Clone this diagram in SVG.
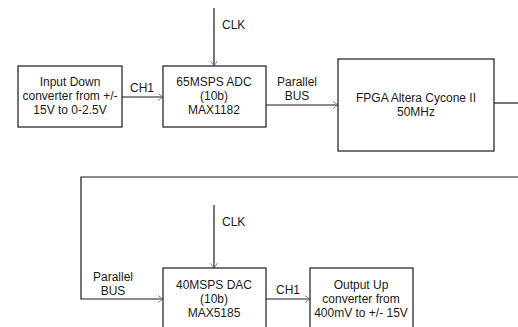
<svg xmlns="http://www.w3.org/2000/svg" width="518" height="327" viewBox="0 0 518 327">
<style>
.box{fill:#fff;stroke:#1a1a1a;stroke-width:1.2}
.ln{fill:none;stroke:#1a1a1a;stroke-width:1.2}
text{font-family:"Liberation Sans",Arial,sans-serif;font-size:12px;fill:#1a1a1a;text-anchor:middle}
</style>
<defs>
<marker id="ah" markerWidth="8" markerHeight="8" refX="6" refY="4" orient="auto" markerUnits="userSpaceOnUse">
<path d="M1,0.5 L6,4 L1,7.5" fill="none" stroke="#888" stroke-width="1"/>
</marker>
</defs>
<rect width="518" height="327" fill="#fff"/>
<g id="connectors">
<path class="ln" d="M122,97 H163" marker-end="url(#ah)"/>
<path class="ln" d="M214,8 V66" marker-end="url(#ah)"/>
<path class="ln" d="M266,105 H338" marker-end="url(#ah)"/>
<path class="ln" d="M494,103 H518"/>
<path class="ln" d="M518,177 H81 V299 H163" marker-end="url(#ah)"/>
<path class="ln" d="M214,205 V268" marker-end="url(#ah)"/>
<path class="ln" d="M266,299 H310" marker-end="url(#ah)"/>
<text x="142" y="92">CH1</text>
<text x="222" y="29" style="text-anchor:start">CLK</text>
<text x="297" y="86">Parallel</text>
<text x="297" y="100">BUS</text>
<text x="222" y="226" style="text-anchor:start">CLK</text>
<text x="113" y="281">Parallel</text>
<text x="113" y="295">BUS</text>
<text x="288" y="294">CH1</text>
</g>
<g id="input">
<rect class="box" x="18" y="66" width="104" height="61"/>
<text x="70" y="86">Input Down</text>
<text x="70" y="100">converter from +/-</text>
<text x="70" y="114">15V to 0-2.5V</text>
</g>
<g id="adc">
<rect class="box" x="163" y="66" width="103" height="61"/>
<text x="214" y="86">65MSPS ADC</text>
<text x="214" y="100">(10b)</text>
<text x="214" y="114">MAX1182</text>
</g>
<g id="fpga">
<rect class="box" x="338" y="59" width="156" height="92"/>
<text x="416" y="102">FPGA Altera Cycone II</text>
<text x="416" y="116">50MHz</text>
</g>
<g id="dac">
<rect class="box" x="163" y="268" width="103" height="70"/>
<text x="214" y="289">40MSPS DAC</text>
<text x="214" y="303">(10b)</text>
<text x="214" y="317">MAX5185</text>
</g>
<g id="output">
<rect class="box" x="310" y="268" width="103" height="70"/>
<text x="361" y="289">Output Up</text>
<text x="361" y="303">converter from</text>
<text x="361" y="317">400mV to +/- 15V</text>
</g>
</svg>
